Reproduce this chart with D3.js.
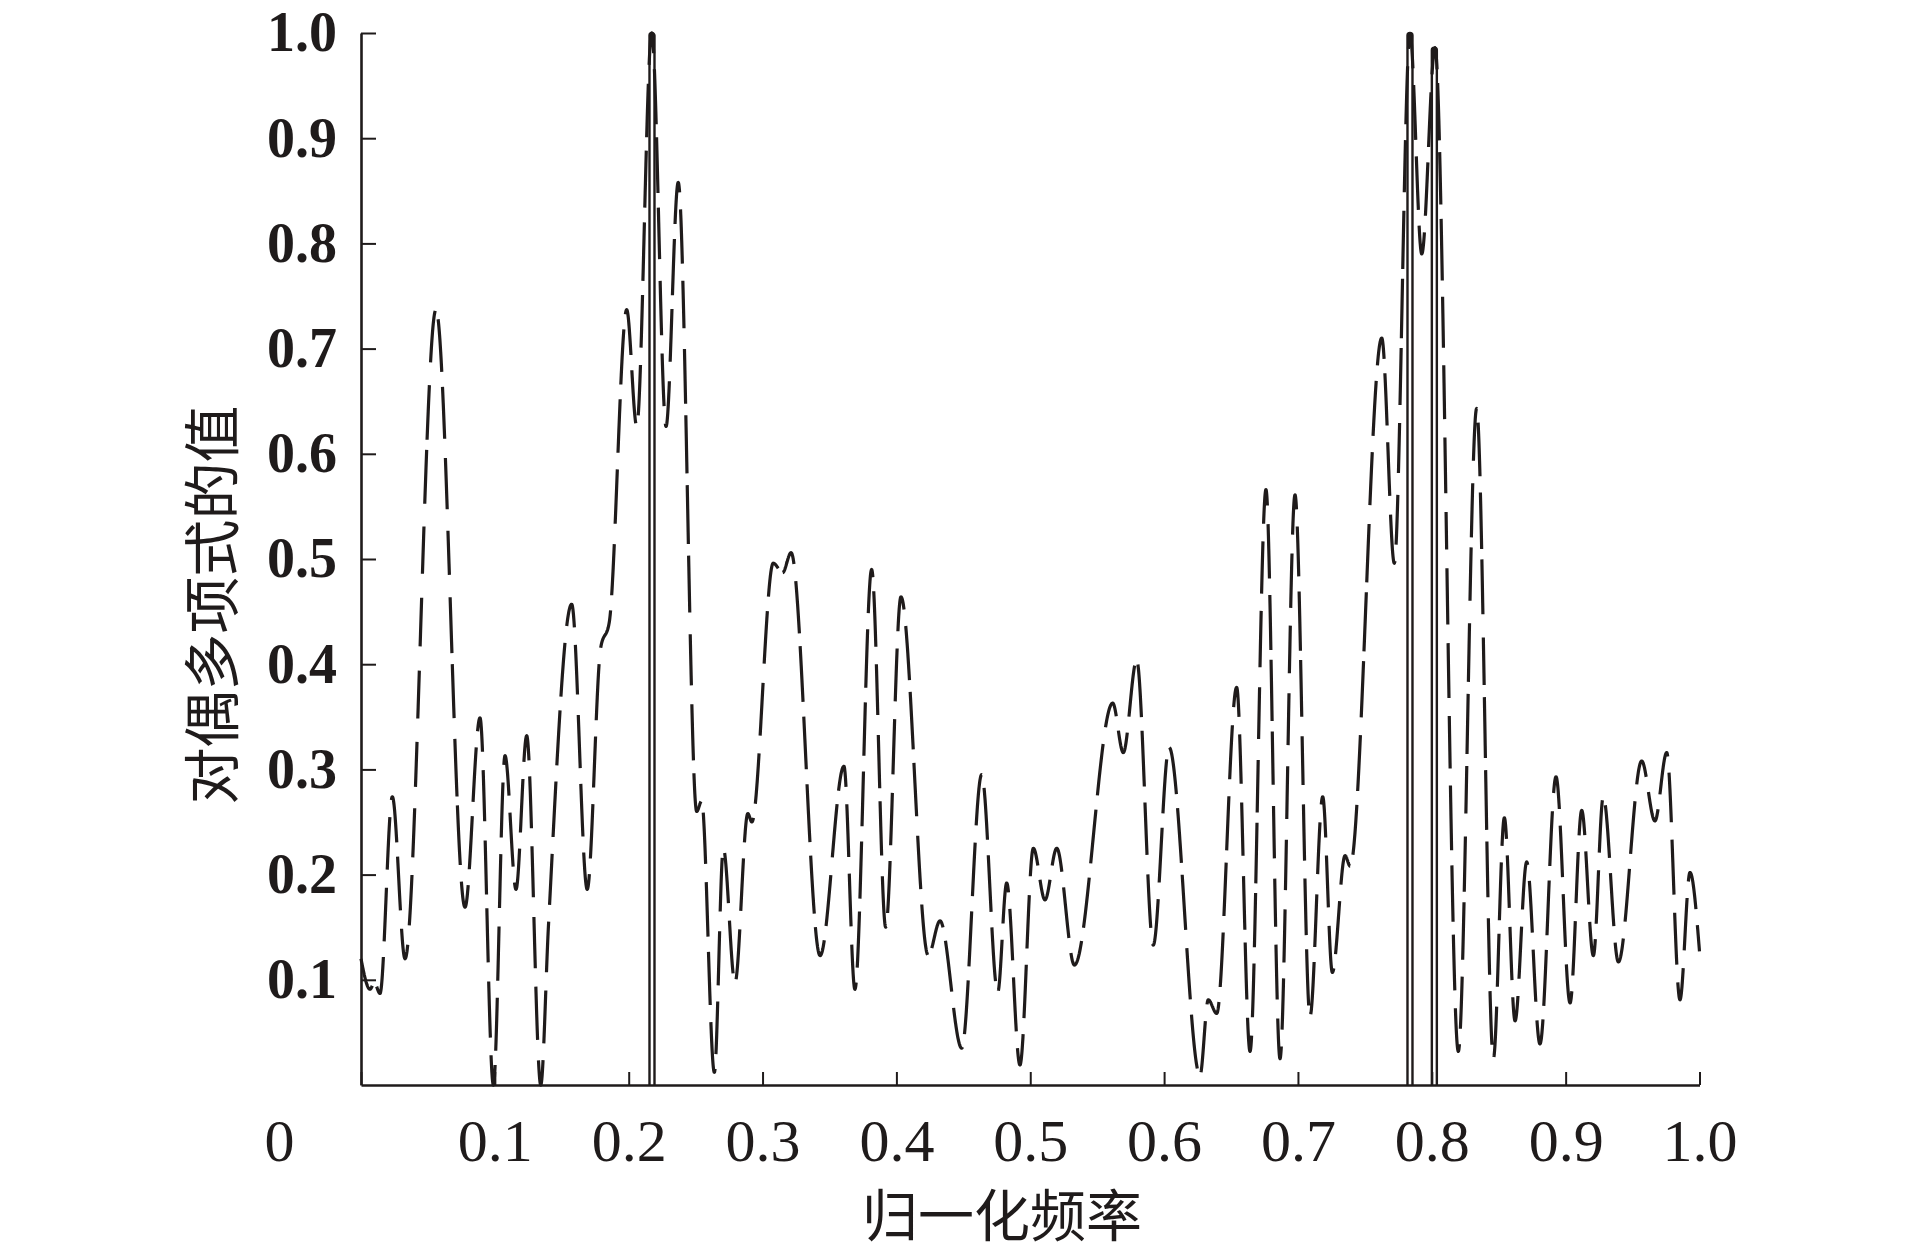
<!DOCTYPE html>
<html><head><meta charset="utf-8">
<script src="https://cdn.jsdelivr.net/npm/d3@7"></script>
<style>
html,body{margin:0;padding:0;background:#fff;}
svg{display:block;}
</style></head><body>
<svg id="chart" width="1913" height="1252"></svg>
<script>
// ---- data ----
const freq = [0.000,0.0067,0.0100,0.0142,0.0234,0.0329,0.0560,0.0777,0.0889,0.0989,
  0.1076,0.1158,0.1238,0.1343,0.1400,0.1574,0.1690,0.1790,0.1855,0.1985,
  0.2060,0.2172,0.2279,0.2370,0.2508,0.2545,0.2640,0.2707,0.2794,0.2890,
  0.2920,0.3080,0.3150,0.3213,0.3430,0.3608,0.3690,0.3815,0.3920,0.4034,
  0.4238,0.4326,0.4488,0.4637,0.4757,0.4824,0.4923,0.5023,0.5110,0.5198,
  0.5330,0.5616,0.5695,0.5795,0.5919,0.6037,0.6268,0.6330,0.6393,0.6542,
  0.6642,0.6761,0.6866,0.6978,0.7090,0.7185,0.7257,0.7352,0.7390,0.7626,
  0.7720,0.7837,0.7925,0.8024,0.8198,0.8335,0.8460,0.8542,0.8622,0.8709,
  0.8808,0.8928,0.9033,0.9120,0.9207,0.9281,0.9394,0.9568,0.9667,0.9755,
  0.9854,0.9929,1.0000];
const dualValue = [0.120,0.091,0.097,0.087,0.274,0.120,0.737,0.169,0.349,0.000,
  0.313,0.186,0.332,0.000,0.150,0.457,0.186,0.415,0.440,0.737,
  0.626,1.000,0.626,0.858,0.260,0.270,0.012,0.225,0.097,0.258,
  0.250,0.496,0.487,0.506,0.123,0.303,0.091,0.490,0.150,0.464,
  0.123,0.156,0.035,0.295,0.088,0.192,0.019,0.225,0.176,0.225,
  0.114,0.363,0.316,0.404,0.133,0.321,0.009,0.081,0.068,0.378,
  0.032,0.566,0.025,0.561,0.065,0.274,0.107,0.218,0.208,0.710,
  0.496,0.999,0.790,0.986,0.032,0.643,0.025,0.254,0.061,0.212,
  0.039,0.293,0.078,0.261,0.123,0.274,0.117,0.308,0.251,0.316,
  0.081,0.202,0.127];
const spikeFreq = [0.2174, 0.7837, 0.8019];
const spikeValue = [1.0, 1.0, 0.986];
const xTicks = [0,0.1,0.2,0.3,0.4,0.5,0.6,0.7,0.8,0.9,1.0];
const yTicks = [0.1,0.2,0.3,0.4,0.5,0.6,0.7,0.8,0.9,1.0];
const xTitle = "归一化频率";
const yTitle = "对偶多项式的值";

// ---- layout ----
const ink = "#1f1b1b";
const svg = d3.select("#chart");
const x = d3.scaleLinear().domain([0,1]).range([361,1699.5]);
const y = d3.scaleLinear().domain([0,1]).range([1085,33]);

// ---- dashed curve: flatten the d3 curve, then cut dashes in a vertically compressed metric ----
const pts = freq.map((f,i)=>[f,dualValue[i]]);
const poly = [];
const ctx = {
  moveTo(a,b){ poly.push([a,b]); },
  lineTo(a,b){ poly.push([a,b]); },
  bezierCurveTo(c1x,c1y,c2x,c2y,ex,ey){
    const [sx,sy] = poly[poly.length-1];
    const N = 80;
    for (let k=1;k<=N;k++){
      const t=k/N, u=1-t;
      poly.push([u*u*u*sx+3*u*u*t*c1x+3*u*t*t*c2x+t*t*t*ex,
                 u*u*u*sy+3*u*u*t*c1y+3*u*t*t*c2y+t*t*t*ey]);
    }
  },
  closePath(){}
};
d3.line().x(d=>x(d[0])).y(d=>y(d[1])).curve(d3.curveMonotoneX).context(ctx)(pts);

const sq = 3.5, dashOn = 15.5, dashOff = 4.8, period = dashOn + dashOff;
const segs = []; let cur = [poly[0]]; segs.push(cur); let m = 0;
for (let i=1;i<poly.length;i++){
  const p = poly[i], q = poly[i-1];
  const dx = p[0]-q[0], dy = (p[1]-q[1])/sq;
  m += Math.sqrt(dx*dx+dy*dy);
  const on = (m % period) < dashOn;
  if (on) { if (!cur) { cur = [q]; segs.push(cur); } cur.push(p); }
  else cur = null;
}
const dStr = segs.filter(s=>s.length>1)
  .map(s=>"M" + s.map(p=>p[0].toFixed(2)+","+p[1].toFixed(2)).join("L")).join("");
svg.append("path").attr("d", dStr).attr("fill","none").attr("stroke", ink)
  .attr("stroke-width", 3.2).attr("stroke-linejoin","round").attr("stroke-linecap","butt");

// ---- solid spikes ----
spikeFreq.forEach((f,i)=>{
  const cx = x(f), top = y(spikeValue[i]), r = 2.5, base = y(0);
  const p = d3.path();
  p.moveTo(cx - r, base); p.lineTo(cx - r, top + r);
  p.arc(cx, top + r, r, Math.PI, 0); p.lineTo(cx + r, base);
  svg.append("path").attr("d", p.toString()).attr("fill","none")
    .attr("stroke", ink).attr("stroke-width", 2.4);
});

// ---- axes ----
const fmt = d => d === 0 ? "0" : d3.format(".1f")(d);
const gx = svg.append("g").attr("transform", `translate(0,${y(0)})`)
  .call(d3.axisBottom(x).tickValues(xTicks).tickSize(-13).tickSizeOuter(0).tickFormat(fmt));
gx.select(".domain").attr("stroke", ink).attr("stroke-width", 2.6);
gx.selectAll(".tick line").attr("stroke", ink).attr("stroke-width", 2);
gx.selectAll(".tick text").attr("dy", null).attr("y", 76)
  .attr("x", d => d === 0 ? -82 : 0)
  .attr("fill", ink).style("font-family", "'Liberation Serif', serif").style("font-size", "60px");

const gy = svg.append("g").attr("transform", `translate(${x(0)},0)`)
  .call(d3.axisLeft(y).tickValues(yTicks).tickSize(-15).tickPadding(24).tickSizeOuter(0).tickFormat(fmt));
gy.select(".domain").attr("stroke", ink).attr("stroke-width", 2.6);
gy.selectAll(".tick line").attr("stroke", ink).attr("stroke-width", 2);
gy.selectAll(".tick text").attr("fill", ink)
  .style("font-family", "'Liberation Serif', serif").style("font-weight", "bold").style("font-size", "56px");

// ---- titles ----
svg.append("text").text(xTitle).attr("x", 1002).attr("y", 1211)
  .attr("text-anchor","middle").attr("dominant-baseline","central")
  .attr("fill", ink).style("font-family", "'Noto Sans CJK SC', sans-serif").style("font-size","56px");
svg.append("text").text(yTitle)
  .attr("transform", "translate(208,605) rotate(-90)")
  .attr("text-anchor","middle").attr("dominant-baseline","central")
  .attr("fill", ink).style("font-family", "'Noto Sans CJK SC', sans-serif").style("font-size","57px");
</script>
</body></html>
